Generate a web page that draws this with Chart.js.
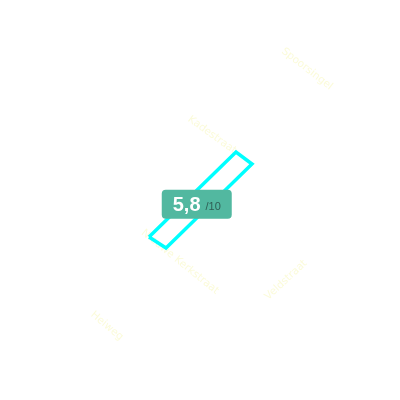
<!DOCTYPE html>
<html>
<head>
<meta charset="utf-8">
<script src="https://cdn.jsdelivr.net/npm/chart.js@4/dist/chart.umd.min.js"></script>
<style>
  html, body { margin: 0; padding: 0; background: #fff; }
  #wrap { width: 400px; height: 400px; }
</style>
</head>
<body>
<div id="wrap"><canvas id="chart" width="400" height="400"></canvas></div>
<script>
// street names and where they sit on the map (map units, y down)
const streetNames = ['Spoorsingel', 'Kadestraat', 'Nieuwe Kerkstraat', 'Veldstraat', 'Heiweg']
const streetX = [307, 212, 180, 286, 107]
const streetY = [69, 135, 262, 280, 326]
const streetBearing = [38, 36, 39, -43, 40]

// highlighted street segment outline
const segmentX = [149, 236, 252, 166, 149]
const segmentY = [237, 152, 164, 248, 237]

// score shown on the segment
const score = 5.8
const scoreMax = 10

const toPoints = (xs, ys) => xs.map((x, i) => ({ x: x, y: ys[i] }))

// draws the rotated street names at their points, under the segment
const streetLabels = {
  id: 'streetLabels',
  beforeDatasetsDraw(chart) {
    const ctx = chart.ctx
    const xs = chart.scales.x, ys = chart.scales.y
    ctx.save()
    ctx.font = '10.5px "DejaVu Sans", sans-serif'
    ctx.fillStyle = '#fbfbda'
    ctx.textAlign = 'center'
    ctx.textBaseline = 'middle'
    streetNames.forEach((name, i) => {
      ctx.save()
      ctx.translate(xs.getPixelForValue(streetX[i]), ys.getPixelForValue(streetY[i]))
      ctx.rotate(streetBearing[i] * Math.PI / 180)
      ctx.fillText(name, 0, 0)
      ctx.restore()
    })
    ctx.restore()
  }
}

// score badge in the middle of the segment
const scoreBadge = {
  id: 'scoreBadge',
  afterDraw(chart) {
    const ctx = chart.ctx
    const meta = chart.getDatasetMeta(0)
    const pts = meta.data.slice(0, 4)
    const cx = pts.reduce((s, p) => s + p.x, 0) / pts.length - 4
    const cy = pts.reduce((s, p) => s + p.y, 0) / pts.length + 4

    const main = score.toLocaleString('nl-NL')
    const sub = '/' + scoreMax
    ctx.save()
    ctx.font = '600 20px "Liberation Sans", Arial, sans-serif'
    const wMain = ctx.measureText(main).width
    ctx.font = '11px "Liberation Sans", Arial, sans-serif'
    const wSub = ctx.measureText(sub).width
    const w = 70, h = 29
    const x0 = cx - w / 2, y0 = cy - h / 2

    ctx.fillStyle = '#52b8a0'
    ctx.beginPath()
    ctx.roundRect(x0, y0, w, h, 4)
    ctx.fill()

    const inner = wMain + 5 + wSub
    const tx = cx - inner / 2
    ctx.textBaseline = 'alphabetic'
    ctx.textAlign = 'left'
    ctx.fillStyle = '#ffffff'
    ctx.font = '600 20px "Liberation Sans", Arial, sans-serif'
    ctx.fillText(main, tx, cy + 7)
    ctx.fillStyle = '#2f5e54'
    ctx.font = '11px "Liberation Sans", Arial, sans-serif'
    ctx.fillText(sub, tx + wMain + 5, cy + 6)
    ctx.restore()
  }
}

new Chart(document.getElementById('chart'), {
  type: 'scatter',
  data: {
    datasets: [
      {
        data: toPoints(segmentX, segmentY),
        showLine: true,
        fill: false,
        borderColor: '#00ffff',
        borderWidth: 3.5,
        borderJoinStyle: 'miter',
        pointRadius: 0,
        tension: 0
      },
      {
        data: toPoints(streetX, streetY),
        pointRadius: 0
      }
    ]
  },
  options: {
    responsive: false,
    animation: false,
    layout: { padding: 0 },
    scales: {
      x: { type: 'linear', min: 0, max: 400, display: false },
      y: { type: 'linear', min: 0, max: 400, reverse: true, display: false }
    },
    plugins: {
      legend: { display: false },
      tooltip: { enabled: false }
    }
  },
  plugins: [streetLabels, scoreBadge]
})
</script>
</body>
</html>
